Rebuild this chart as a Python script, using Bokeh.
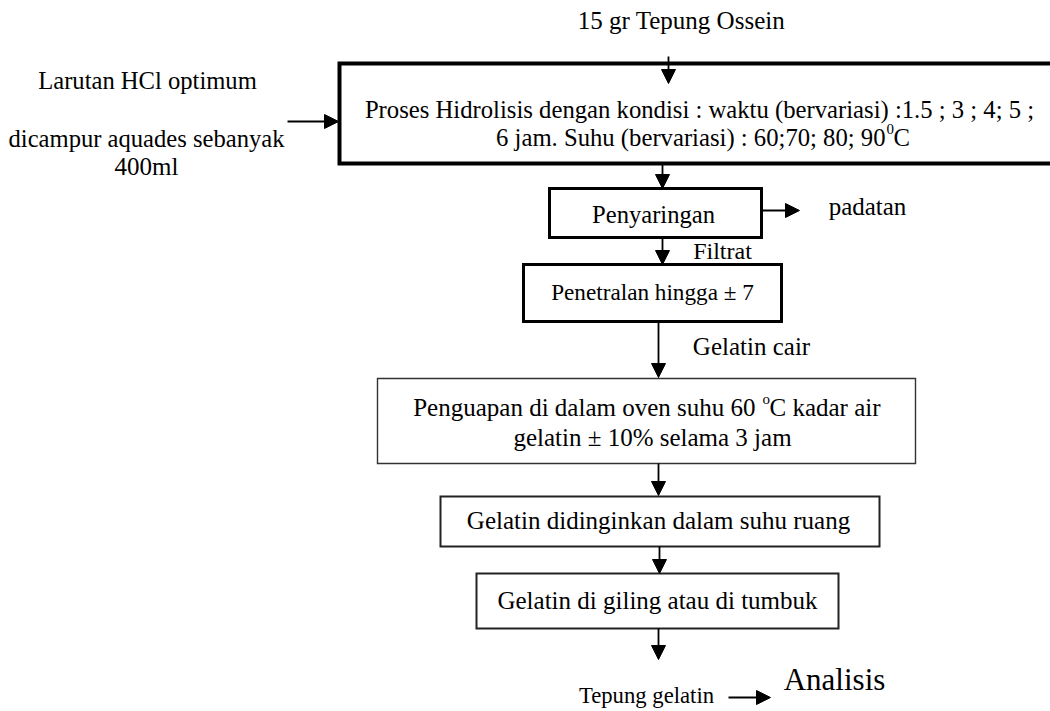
from bokeh.plotting import figure
from bokeh.models import Range1d, ColumnDataSource, Arrow, NormalHead
from bokeh.core.properties import value
from bokeh.embed import file_html
from bokeh.resources import INLINE

FONT = "Liberation Serif"

# ---- flowchart content (steps) ----
box_names = ["hidrolisis", "penyaringan", "penetralan", "penguapan", "didinginkan", "giling"]
box_left = [339, 549, 523, 377, 440, 476]
box_right = [1080, 761, 781, 915, 879, 838]
box_top = [63, 188, 264, 378, 496, 573]
box_bottom = [163, 237, 321, 463, 546, 628]
box_lw = [4, 3, 3, 1.4, 2, 2]
box_color = ["black", "black", "black", "#333333", "#222222", "#222222"]

# centred labels
text_labels = [
    "15 gr Tepung Ossein",
    "Larutan HCl optimum",
    "dicampur aquades sebanyak",
    "400ml",
    "Proses Hidrolisis dengan kondisi : waktu (bervariasi) :1.5 ; 3 ; 4; 5 ;",
    "Penyaringan",
    "padatan",
    "Filtrat",
    "Penetralan hingga \u00b1 7",
    "Gelatin cair",
    "gelatin \u00b1 10% selama 3 jam",
    "Gelatin didinginkan dalam suhu ruang",
    "Gelatin di giling atau di tumbuk",
    "Tepung gelatin",
    "Analisis",
]
text_x = [681, 147, 146, 146, 699, 653, 867, 722, 652, 751, 652, 658, 657, 646, 834]
text_y = [20, 80, 138, 166, 109, 214, 206, 250, 291, 346, 437, 520, 600, 695, 679]
text_size = ["25px", "24.6px", "24.6px", "25px", "24.7px", "24.6px", "25px", "24px",
             "23.2px", "25px", "25px", "25px", "25px", "22.7px", "31px"]

# labels with a superscript degree mark: (text before, superscript, text after)
sup_before = ["6 jam. Suhu (bervariasi) : 60;70; 80; 90", "Penguapan di dalam oven suhu 60"]
sup_mark = ["0", "o"]
sup_after = ["C", "C kadar air"]
sup_xb = [885, 755]      # right end of the text before
sup_xs = [886, 762]      # left of superscript
sup_xa = [893, 769]      # left of the text after
sup_y = [137, 407]
sup_size = ["24.7px", "25px"]

# arrows: (x_start, y_start) -> (x_end, y_end)
arr_x0 = [668, 287, 662, 662, 761, 658, 658, 659, 658, 728]
arr_y0 = [56, 121, 163, 237, 210, 321, 463, 546, 628, 697]
arr_x1 = [668, 338, 662, 662, 799, 658, 658, 659, 658, 770]
arr_y1 = [83, 121, 188, 264, 210, 377, 495, 573, 659, 697]

W, H = 1050, 711
p = figure(width=W, height=H, output_backend="svg", toolbar_location=None,
           x_range=Range1d(0, W), y_range=Range1d(H, 0),
           min_border=0, outline_line_color=None)
p.xaxis.visible = False
p.yaxis.visible = False
p.xgrid.visible = False
p.ygrid.visible = False
p.background_fill_color = "white"
p.border_fill_color = "white"

box_src = ColumnDataSource(dict(name=box_names, left=box_left, right=box_right,
                                top=box_top, bottom=box_bottom, lw=box_lw, c=box_color))
p.quad(left="left", right="right", top="top", bottom="bottom", source=box_src,
       fill_color=None, line_color="c", line_width="lw", line_join="miter")

arr_src = ColumnDataSource(dict(x0=arr_x0, y0=arr_y0, x1=arr_x1, y1=arr_y1))
p.add_layout(Arrow(end=NormalHead(size=14, fill_color="black", line_color="black", line_width=1),
                   x_start="x0", y_start="y0", x_end="x1", y_end="y1",
                   line_width=1.8, line_color="black", source=arr_src))

txt_src = ColumnDataSource(dict(x=text_x, y=text_y, t=text_labels, s=text_size))
p.text(x="x", y="y", text="t", source=txt_src, text_font=value(FONT),
       text_font_size="s", text_align="center", text_baseline="middle",
       text_color="black")

sup_src = ColumnDataSource(dict(xb=sup_xb, xs=sup_xs, xa=sup_xa, y=sup_y,
                                ys=[v - 9 for v in sup_y],
                                tb=sup_before, ts=sup_mark, ta=sup_after, s=sup_size))
p.text(x="xb", y="y", text="tb", source=sup_src, text_font=value(FONT),
       text_font_size="s", text_align="right", text_baseline="middle", text_color="black")
p.text(x="xs", y="ys", text="ts", source=sup_src, text_font=value(FONT),
       text_font_size="15px", text_align="left", text_baseline="middle", text_color="black")
p.text(x="xa", y="y", text="ta", source=sup_src, text_font=value(FONT),
       text_font_size="s", text_align="left", text_baseline="middle", text_color="black")

open("out.html", "w").write(file_html(p, INLINE))
